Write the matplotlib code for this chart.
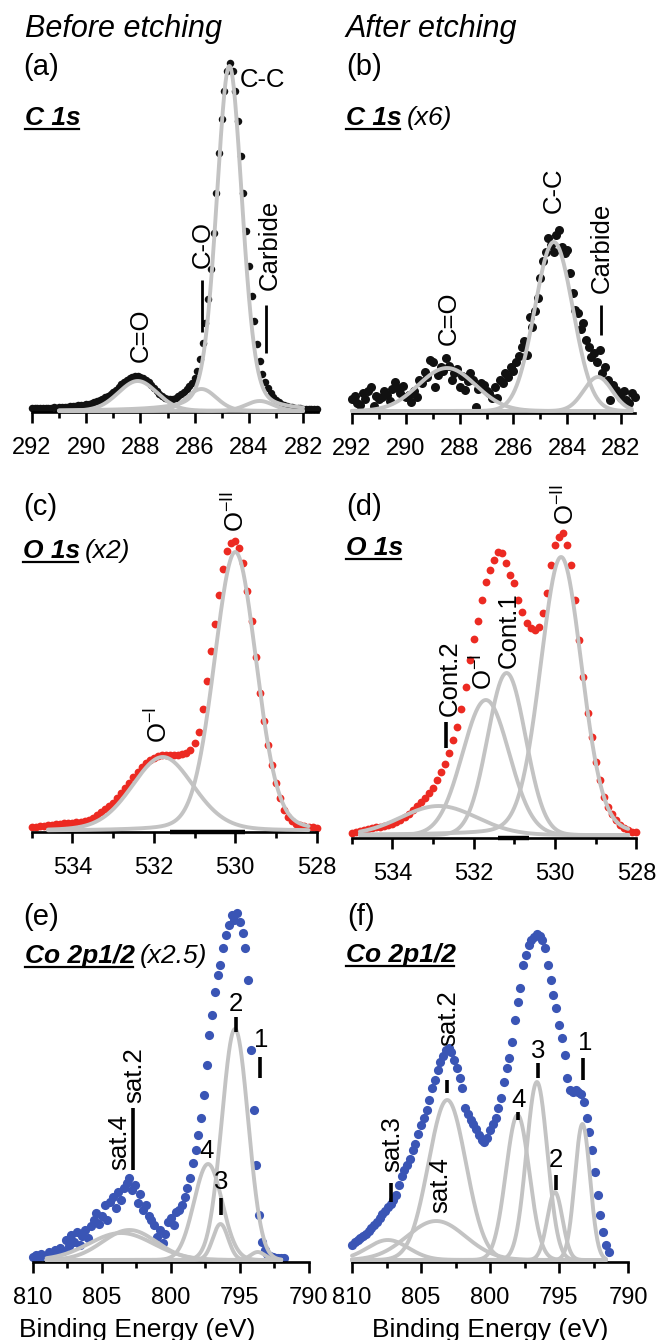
import numpy as np
import matplotlib
matplotlib.use("Agg")
import matplotlib.pyplot as plt
from matplotlib.transforms import Affine2D
from matplotlib.lines import Line2D
from matplotlib.ticker import FixedLocator

plt.rcParams['font.family'] = ['Liberation Sans', 'DejaVu Sans']
plt.rcParams['mathtext.fontset'] = 'custom'
plt.rcParams['mathtext.rm'] = 'Liberation Sans'
plt.rcParams['mathtext.it'] = 'Liberation Sans:italic'
plt.rcParams['mathtext.bf'] = 'Liberation Sans:bold'

# ======================= DATA =======================
# intensities in arbitrary units; energy grid: start, step
# (a) C 1s before etching
c1s_before_start, c1s_before_step = 292.0, -0.1
c1s_before = [3, 3, 3, 3, 3, 3, 3, 3, 4, 3,
              4, 4, 4, 4, 5, 5, 5, 6, 6, 6,
              7, 7, 8, 9, 10, 11, 12, 14, 15, 17,
              19, 21, 24, 27, 29, 31, 33, 34, 35, 35,
              34, 33, 31, 29, 26, 23, 20, 17, 15, 13,
              12, 12, 12, 13, 15, 17, 19, 22, 25, 28,
              33, 40, 52, 68, 88, 112, 142, 178, 218, 258,
              292, 320, 340, 348, 340, 320, 290, 255, 218, 180,
              145, 115, 90, 67, 50, 37, 29, 23, 18, 14,
              11, 9, 7, 6, 5, 4, 4, 3, 3, 3,
              2, 2, 2, 2, 2, 2]
c1s_before_names = ['C=O', 'C-O', 'C-C', 'Carbide']
c1s_before_center = [288.1, 285.75, 284.72, 283.6]
c1s_before_height = [30, 22, 345, 10]
c1s_before_fwhm = [1.7, 1.3, 1.12, 1.2]
c1s_before_eta = [0.1, 0.1, 0.25, 0.1]

# (b) C 1s after etching (x6)
c1s_after_start, c1s_after_step = 292.0, -0.1
c1s_after = [12, 15, 8, 6, 18, 12, 20, 24, 5, 15,
             12, 14, 20, 16, 10, 22, 29, 23, 18, 25,
             14, 16, 9, 20, 14, 31, 28, 39, 34, 51,
             49, 24, 36, 44, 40, 53, 45, 31, 38, 42,
             24, 35, 21, 30, 38, 31, 4, 22, 28, 26,
             20, 18, 13, 24, 13, 31, 28, 38, 34, 44,
             40, 49, 55, 64, 70, 56, 94, 84, 100, 113,
             133, 150, 159, 173, 166, 159, 176, 181, 164, 158,
             161, 138, 118, 101, 98, 82, 88, 71, 64, 54,
             58, 49, 61, 38, 44, 31, 11, 26, 21, 18,
             13, 20, 11, 8, 18, 14]
c1s_after_names = ['C=O', 'C-C', 'Carbide']
c1s_after_center = [288.47, 284.5, 282.86]
c1s_after_height = [43, 169, 34]
c1s_after_fwhm = [2.5, 1.67, 1.24]
c1s_after_eta = [0.0, 0.0, 0.0]

# (c) O 1s before etching (x2)
o1s_before_start, o1s_before_step = 535.0, -0.1
o1s_before = [4, 4, 5, 5, 6, 6, 7, 7, 8, 8,
              8, 9, 9, 10, 11, 13, 16, 19, 22, 25,
              28, 33, 38, 43, 48, 54, 59, 64, 68, 71,
              73, 75, 76, 76, 76, 76, 76, 77, 78, 81,
              88, 99, 122, 150, 180, 207, 236, 262, 280, 288,
              290, 283, 268, 240, 210, 174, 138, 110, 86, 66,
              48, 33, 21, 14, 10, 7, 6, 5, 4, 4, 3]
o1s_before_names = ['O-I', 'O-II']
o1s_before_center = [531.78, 530.0]
o1s_before_height = [74, 279]
o1s_before_fwhm = [1.8, 1.22]
o1s_before_eta = [0.2, 0.15]

# (d) O 1s after etching
o1s_after_start, o1s_after_step = 535.0, -0.1
o1s_after = [2, 3, 4, 5, 6, 7, 8, 8, 9, 10,
             11, 13, 15, 18, 21, 25, 29, 33, 37, 42,
             47, 55, 63, 71, 82, 95, 108, 126, 148, 175,
             196, 214, 235, 253, 265, 275, 283, 282, 272, 260,
             252, 235, 223, 212, 207, 205, 208, 222, 242, 270,
             290, 298, 302, 290, 270, 235, 195, 158, 122, 98,
             73, 55, 38, 28, 21, 15, 10, 7, 5, 3, 3]
o1s_after_names = ['Cont.2', 'O-I', 'Cont.1', 'O-II']
o1s_after_center = [532.86, 531.7, 531.19, 529.85]
o1s_after_height = [29, 135, 162, 278]
o1s_after_fwhm = [2.2, 1.35, 1.1, 1.2]
o1s_after_eta = [0.0, 0.0, 0.0, 0.15]

# (e) Co 2p1/2 before etching (x2.5)
co_before_start, co_before_step = 810.0, -0.2
co_before = [3, 5, 2, 6, 3, 4, 8, 5, 10, 7,
             12, 9, 20, 14, 25, 18, 28, 15, 24, 30,
             22, 34, 40, 47, 36, 44, 55, 40, 58, 63,
             52, 68, 60, 72, 77, 82, 70, 75, 57, 66,
             50, 55, 44, 40, 35, 23, 30, 17, 26, 38,
             42, 35, 48, 50, 55, 63, 72, 82, 97, 110,
             125, 142, 165, 195, 225, 245, 268, 285, 295, 312,
             325, 335, 345, 340, 347, 338, 327, 312, 280, 210,
             150, 95, 45, 18, 10, 6, 4, 3, 2, 2, 2, 2]
co_before_names = ['sat.4', 'sat.2', '4', '3', '2', '1']
co_before_center = [803.6, 803.0, 797.3, 796.4, 795.35, 793.7]
co_before_height = [27, 30, 96, 36, 231, 8]
co_before_fwhm = [5.5, 4.6, 2.4, 1.3, 2.25, 1.2]

# (f) Co 2p1/2 after etching
co_after_start, co_after_step = 810.0, -0.2
co_after = [15, 18, 20, 22, 24, 26, 29, 32, 35, 38,
            42, 46, 49, 53, 56, 60, 65, 75, 84, 90,
            95, 101, 110, 116, 126, 135, 142, 150, 160, 172,
            180, 190, 198, 204, 210, 212, 208, 200, 192, 182,
            172, 152, 146, 140, 136, 131, 125, 120, 118, 122,
            130, 136, 142, 152, 162, 178, 192, 202, 218, 240,
            258, 272, 295, 305, 315, 320, 323, 326, 324, 320,
            312, 295, 280, 265, 252, 235, 222, 205, 182, 170,
            168, 170, 168, 166, 158, 142, 128, 110, 88, 65,
            45, 28, 15, 8]
co_after_names = ['sat.3', 'sat.4', 'sat.2', '4', '3', '2', '1']
co_after_center = [807.4, 803.9, 803.1, 798.0, 796.6, 795.3, 793.3]
co_after_height = [20, 39, 160, 145, 178, 68, 136]
co_after_fwhm = [3.5, 5.0, 3.2, 2.0, 1.8, 1.3, 1.3]

# tick values
c_ticks = [292, 290, 288, 286, 284, 282]
o_ticks = [534, 532, 530, 528]
co_ticks = [810, 805, 800, 795, 790]

# ======================= FIGURE =======================
W, H = 658, 1340
fig = plt.figure(figsize=(W / 100, H / 100), dpi=100)
PX = Affine2D().scale(1.0 / W, -1.0 / H).translate(0, 1) + fig.transFigure

GRAY = '#c3c3c3'
BLACK_DOT = '#111111'
RED = '#ec2a22'
BLUE = '#3a55b5'
TICK_FS = 17
ANN_FS = 18.5
HEAD_FS = 19
LET_FS = 21
TITLE_FS = 22


def profile(x, c, h, w, eta=0.0):
    s = w / 2.3548
    g = np.exp(-0.5 * ((x - c) / s) ** 2)
    lo = 1.0 / (1.0 + ((x - c) / (w / 2.0)) ** 2)
    return h * ((1 - eta) * g + eta * lo)


def make_ax(l, r, ybase, top, xlim, major, minor, labelpad):
    ax = fig.add_axes([l / W, 1 - ybase / H, (r - l) / W, (ybase - top) / H])
    ax.set_xlim(*xlim)
    ax.set_ylim(0, ybase - top)
    for s in ['left', 'right', 'top']:
        ax.spines[s].set_visible(False)
    ax.spines['bottom'].set_linewidth(1.9)
    ax.set_yticks([])
    ax.xaxis.set_major_locator(FixedLocator(major))
    ax.xaxis.set_minor_locator(FixedLocator(minor))
    ax.tick_params(axis='x', which='major', direction='out', length=8,
                   width=1.9, labelsize=TICK_FS, pad=labelpad)
    ax.tick_params(axis='x', which='minor', direction='out', length=4.5,
                   width=1.9)
    ax.set_xticklabels([str(v) for v in major])
    ax.patch.set_alpha(0)
    return ax


def draw_panel(ax, start, step, vals, color, ms, centers, heights, fwhms,
               etas=None, base=0.0, xr=None):
    vals = np.asarray(vals, dtype=float)
    x = start + step * np.arange(len(vals))
    ax.plot(x, vals + base, 'o', ms=ms, color=color, mec='none',
            zorder=2, clip_on=False)
    xf = np.linspace(xr[0], xr[1], 800)
    if etas is None:
        etas = [0.0] * len(centers)
    for c, h, w, e in zip(centers, heights, fwhms, etas):
        ax.plot(xf, profile(xf, c, h, w, e) + base, color=GRAY, lw=2.8,
                zorder=3, solid_capstyle='round', clip_on=False)


def ptext(x, y, s, size=ANN_FS, rot=0, ha='center', va='center', **kw):
    return fig.text(x, y, s, transform=PX, fontsize=size, rotation=rot,
                    ha=ha, va=va, **kw)


def pline(x, y0, y1, lw=2.0):
    fig.add_artist(Line2D([x, x], [y0, y1], transform=PX, color='black', lw=lw,
                          solid_capstyle='butt'))


def header(x, ybase, bold, rest, size=HEAD_FS):
    t = fig.text(x, ybase, bold, transform=PX, fontsize=size, fontweight='bold',
                 fontstyle='italic', ha='left', va='baseline')
    fig.canvas.draw()
    r = fig.canvas.get_renderer()
    bb = t.get_window_extent(r)
    uy = ybase + 4
    fig.add_artist(Line2D([bb.x0, bb.x1 - 2], [H - uy, H - uy], transform=None,
                          color='black', lw=1.6))
    if rest:
        fig.text(bb.x1 + 5, H - ybase, rest, transform=None, fontsize=size,
                 fontstyle='italic', ha='left', va='baseline')


# ---- panel a ----
axa = make_ax(32, 318, 412, 40, (292, 281.45), c_ticks,
              [291, 289, 287, 285, 283], 10)
draw_panel(axa, c1s_before_start, c1s_before_step, c1s_before, BLACK_DOT, 5.4,
           c1s_before_center, c1s_before_height, c1s_before_fwhm,
           c1s_before_eta, base=1.0, xr=(291.0, 282.0))

# ---- panel b ----
axb = make_ax(352, 634.5, 413, 40, (292, 281.5), c_ticks,
              [291, 289, 287, 285, 283], 10)
draw_panel(axb, c1s_after_start, c1s_after_step, c1s_after, BLACK_DOT, 6.5,
           c1s_after_center, c1s_after_height, c1s_after_fwhm,
           c1s_after_eta, base=2.0, xr=(292.0, 281.6))

# ---- panel c ----
axc = make_ax(31.7, 316.7, 832, 470, (535, 528), o_ticks, [535, 533, 531, 529], 10)
draw_panel(axc, o1s_before_start, o1s_before_step, o1s_before, RED, 5.6,
           o1s_before_center, o1s_before_height, o1s_before_fwhm,
           o1s_before_eta, base=1.0, xr=(534.6, 528.2))
axc.plot([531.6, 529.75], [0, 0], color='black', lw=3.2, solid_capstyle='butt', clip_on=False)

# ---- panel d ----
axd = make_ax(351.7, 636.3, 838, 470, (535, 528), o_ticks, [535, 533, 531, 529], 10)
draw_panel(axd, o1s_after_start, o1s_after_step, o1s_after, RED, 5.6,
           o1s_after_center, o1s_after_height, o1s_after_fwhm,
           o1s_after_eta, base=3.0, xr=(534.8, 528.2))
axd.plot([531.4, 530.65], [0, 0], color='black', lw=3.2, solid_capstyle='butt', clip_on=False)

# ---- panel e ----
axe = make_ax(32.8, 308.8, 1262, 890, (810, 790), co_ticks,
              [807.5, 802.5, 797.5, 792.5], 10)
draw_panel(axe, co_before_start, co_before_step, co_before, BLUE, 6.6,
           co_before_center, co_before_height, co_before_fwhm,
           base=2.0, xr=(809.0, 792.0))

# ---- panel f ----
axf = make_ax(352, 628, 1262, 890, (810, 790), co_ticks,
              [807.5, 802.5, 797.5, 792.5], 10)
draw_panel(axf, co_after_start, co_after_step, co_after, BLUE, 6.6,
           co_after_center, co_after_height, co_after_fwhm,
           base=2.0, xr=(810.0, 791.6))

# ======================= TEXT =======================
ptext(25, 37, 'Before etching', size=TITLE_FS, ha='left', va='baseline', fontstyle='italic')
ptext(346, 37, 'After etching', size=TITLE_FS, ha='left', va='baseline', fontstyle='italic')
ptext(23, 75, '(a)', size=LET_FS, ha='left', va='baseline')
ptext(346, 75, '(b)', size=LET_FS, ha='left', va='baseline')
ptext(23, 515, '(c)', size=LET_FS, ha='left', va='baseline')
ptext(346, 515, '(d)', size=LET_FS, ha='left', va='baseline')
ptext(23, 925, '(e)', size=LET_FS, ha='left', va='baseline')
ptext(347, 925, '(f)', size=LET_FS, ha='left', va='baseline')

header(25, 125, 'C 1s', '')
header(346, 125, 'C 1s', '(x6)')
header(23, 558, 'O 1s', '(x2)')
header(346, 555, 'O 1s', '')
header(25, 963, 'Co 2p1/2', '(x2.5)')
header(346, 962, 'Co 2p1/2', '')

OI = r'O$^{\mathregular{-I}}$'
OII = r'O$^{\mathregular{-II}}$'

# panel a labels
ptext(240, 87, 'C-C', ha='left', va='baseline')
ptext(141, 335, 'C=O', rot=90)
ptext(203, 244, 'C-O', rot=90)
pline(202, 280, 332)
ptext(270, 245, 'Carbide', rot=90)
pline(266, 305, 353)
# panel b labels
ptext(449, 318, 'C=O', rot=90)
ptext(554, 190, 'C-C', rot=90)
ptext(602, 248, 'Carbide', rot=90)
pline(601, 305, 335)
# panel c labels
ptext(236, 512, OII, rot=90)
ptext(159, 725, OI, rot=90)
# panel d labels
ptext(566, 505, OII, rot=90)
ptext(509, 630, 'Cont.1', rot=90)
ptext(484, 672, OI, rot=90)
ptext(450, 678, 'Cont.2', rot=90)
pline(446, 722, 748, lw=2.6)
# panel e labels
ptext(236, 1004, '2')
pline(236, 1017, 1032, lw=2.6)
ptext(261, 1040, '1')
pline(260, 1057, 1078, lw=2.6)
ptext(134, 1075, 'sat.2', rot=90)
ptext(119, 1142, 'sat.4', rot=90)
pline(133, 1108, 1170, lw=2.6)
ptext(207, 1151, '4')
ptext(221, 1182, '3')
pline(221, 1198, 1215, lw=2.6)
# panel f labels
ptext(448, 1018, 'sat.2', rot=90)
pline(447, 1080, 1093, lw=2.6)
ptext(538, 1051, '3')
pline(538, 1063, 1078, lw=2.6)
ptext(585, 1043, '1')
pline(583, 1058, 1080, lw=2.6)
ptext(519, 1100, '4')
pline(518, 1112, 1120, lw=2.6)
ptext(556, 1160, '2')
pline(556, 1175, 1190, lw=2.6)
ptext(440, 1185, 'sat.4', rot=90)
ptext(392, 1144, 'sat.3', rot=90)
pline(391, 1183, 1202, lw=2.6)

# x labels
ptext(137, 1330, 'Binding Energy (eV)', size=19)
ptext(490, 1330, 'Binding Energy (eV)', size=19)

fig.savefig('out.png', dpi=100)
